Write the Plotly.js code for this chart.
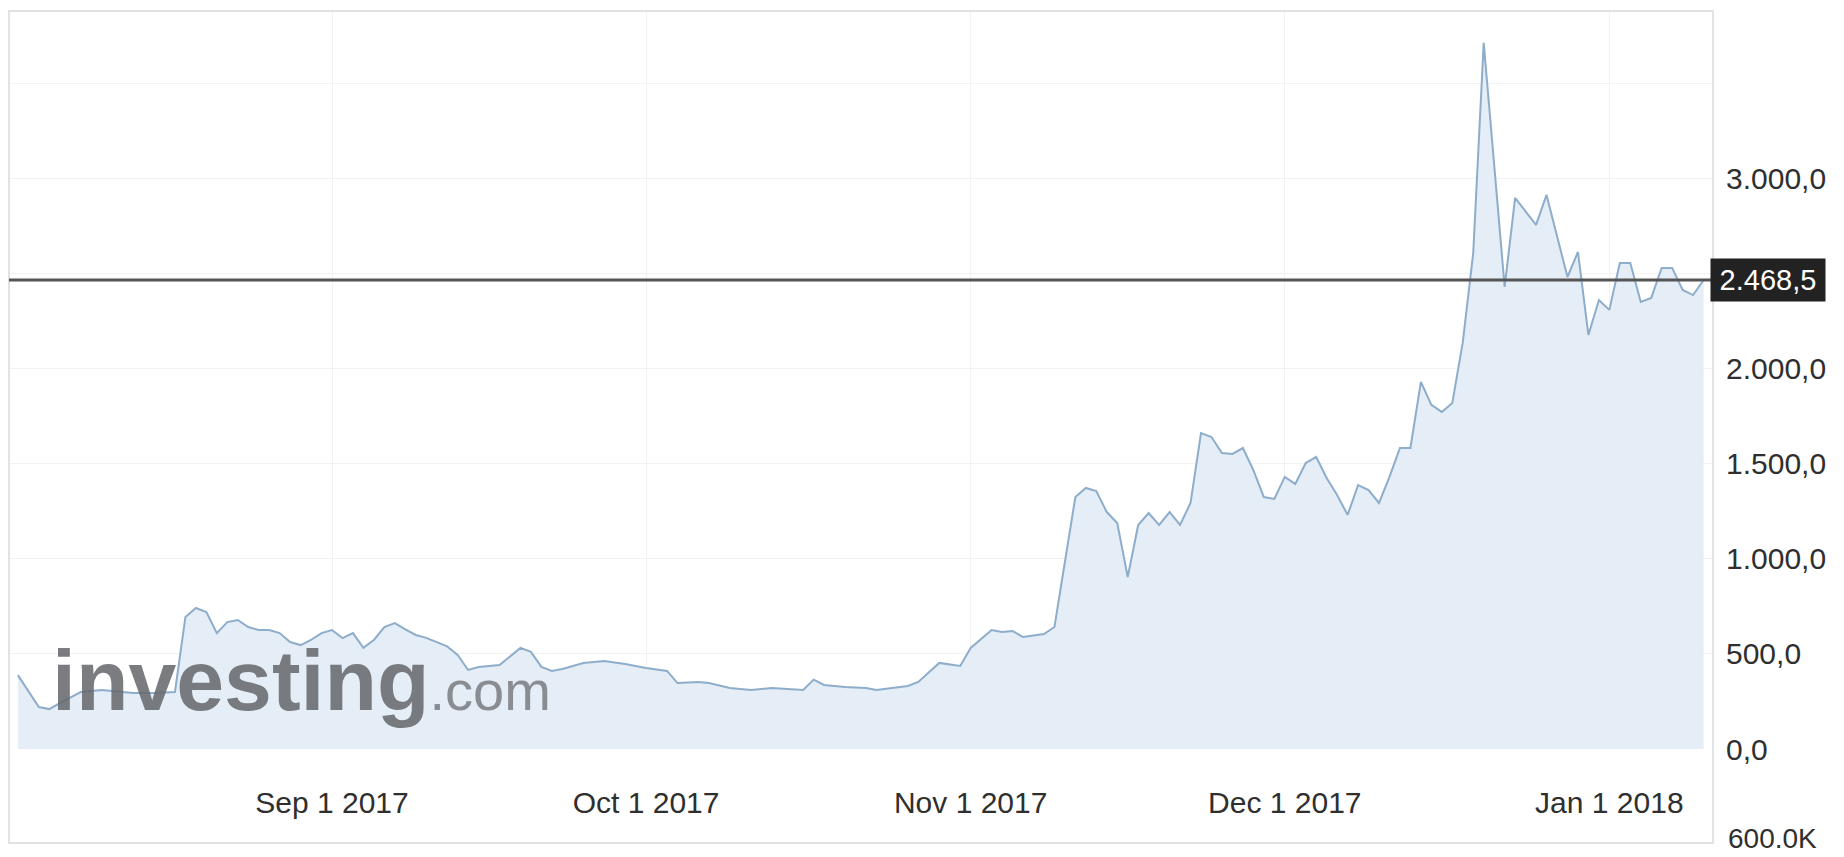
<!DOCTYPE html>
<html>
<head>
<meta charset="utf-8">
<script src="https://cdn.plot.ly/plotly-3.0.1.min.js"></script>
<style>
  html, body { margin: 0; padding: 0; background: #ffffff; }
  #chart { width: 1844px; height: 857px; }
</style>
</head>
<body>
<div id="chart"></div>
<script>
// ---- data ----
const dates = [
  '2017-08-02','2017-08-03','2017-08-04','2017-08-05','2017-08-06','2017-08-08','2017-08-10',
  '2017-08-13','2017-08-15','2017-08-17','2017-08-18','2017-08-19','2017-08-20','2017-08-21',
  '2017-08-22','2017-08-23','2017-08-24','2017-08-25','2017-08-26','2017-08-27','2017-08-28',
  '2017-08-29','2017-08-30','2017-08-31','2017-09-01','2017-09-02','2017-09-03','2017-09-04',
  '2017-09-05','2017-09-06','2017-09-07','2017-09-08','2017-09-09','2017-09-10','2017-09-11',
  '2017-09-12','2017-09-13','2017-09-14','2017-09-15','2017-09-17','2017-09-19','2017-09-20',
  '2017-09-21','2017-09-22','2017-09-23','2017-09-25','2017-09-27','2017-09-29','2017-10-01',
  '2017-10-03','2017-10-04','2017-10-06','2017-10-07','2017-10-09','2017-10-11','2017-10-13',
  '2017-10-16','2017-10-17','2017-10-18','2017-10-20','2017-10-22','2017-10-23','2017-10-26',
  '2017-10-27','2017-10-29','2017-10-31','2017-11-01','2017-11-03','2017-11-04','2017-11-05',
  '2017-11-06','2017-11-08','2017-11-09','2017-11-11','2017-11-12','2017-11-13','2017-11-14',
  '2017-11-15','2017-11-16','2017-11-17','2017-11-18','2017-11-19','2017-11-20','2017-11-21',
  '2017-11-22','2017-11-23','2017-11-24','2017-11-25','2017-11-26','2017-11-27','2017-11-28',
  '2017-11-29','2017-11-30','2017-12-01','2017-12-02','2017-12-03','2017-12-04','2017-12-05',
  '2017-12-06','2017-12-07','2017-12-08','2017-12-09','2017-12-10','2017-12-11','2017-12-12',
  '2017-12-13','2017-12-14','2017-12-15','2017-12-16','2017-12-17','2017-12-18','2017-12-19',
  '2017-12-20','2017-12-22','2017-12-23','2017-12-25','2017-12-26','2017-12-28','2017-12-29',
  '2017-12-30','2017-12-31','2018-01-01','2018-01-02','2018-01-03','2018-01-04','2018-01-05',
  '2018-01-06','2018-01-07','2018-01-08','2018-01-09','2018-01-10'
];
const prices = [
  389, 305, 221, 210, 242, 300, 310,
  295, 295, 300, 695, 742, 721, 610,
  668, 679, 642, 626, 626, 610, 563,
  547, 574, 610, 626, 584, 610, 532,
  574, 642, 663, 630, 600, 585, 563,
  540, 495, 416, 432, 442, 532, 511,
  432, 411, 421, 453, 463, 447, 426,
  411, 347, 353, 347, 321, 311, 321,
  311, 365, 337, 326, 321, 311, 332,
  353, 453, 437, 532, 626, 616, 621,
  589, 605, 642, 1326, 1374, 1358, 1247,
  1189, 905, 1179, 1242, 1179, 1247, 1179,
  1295, 1663, 1642, 1558, 1553, 1584, 1468,
  1326, 1316, 1432, 1395, 1505, 1537, 1426,
  1337, 1232, 1389, 1363, 1295, 1432, 1584,
  1584, 1932, 1811, 1774, 1821, 2140, 2611,
  3716, 2432, 2900, 2758, 2916, 2484, 2616,
  2179, 2363, 2311, 2558, 2558, 2353, 2374,
  2532, 2532, 2416, 2389, 2468.5
];
const lastPrice = 2468.5;
const lastPriceLabel = '2.468,5';
const xTickVals = ['2017-09-01','2017-10-01','2017-11-01','2017-12-01','2018-01-01'];
const xTickText = ['Sep 1 2017','Oct 1 2017','Nov 1 2017','Dec 1 2017','Jan 1 2018'];
const yTickVals = [0, 500, 1000, 1500, 2000, 2500, 3000, 3500];
const yTickText = ['0,0', '500,0', '1.000,0', '1.500,0', '2.000,0', '', '3.000,0', ''];
const volumeLabel = '600.0K';

const FONT = 'Arial, "Liberation Sans", sans-serif';

const trace = {
  type: 'scatter',
  mode: 'lines',
  x: dates,
  y: prices,
  line: { color: '#8eadcb', width: 2 },
  fill: 'tozeroy',
  fillcolor: '#e5edf6',
  hoverinfo: 'skip'
};

const layout = {
  width: 1844,
  height: 857,
  margin: { l: 9, r: 131, t: 11, b: 108 },
  paper_bgcolor: '#ffffff',
  plot_bgcolor: '#ffffff',
  showlegend: false,
  font: { family: FONT, color: '#333333' },
  xaxis: {
    type: 'date',
    range: ['2017-08-01 03:36', '2018-01-10 21:36'],
    tickmode: 'array',
    tickvals: xTickVals,
    ticktext: xTickText,
    showgrid: true,
    gridcolor: '#f2f2f2',
    gridwidth: 1,
    zeroline: false,
    showline: false,
    ticks: '',
    ticklabelstandoff: 33,
    tickfont: { family: FONT, size: 30, color: '#2f2f2f' },
    fixedrange: true
  },
  yaxis: {
    side: 'right',
    range: [0, 3884],
    tickmode: 'array',
    tickvals: yTickVals,
    ticktext: yTickText,
    showgrid: true,
    gridcolor: '#f2f2f2',
    gridwidth: 1,
    zeroline: false,
    showline: false,
    ticks: '',
    ticklabelstandoff: 12,
    tickfont: { family: FONT, size: 30, color: '#2f2f2f' },
    fixedrange: true
  },
  shapes: [
    { type: 'rect', xref: 'paper', yref: 'paper', x0: 0, x1: 1, y0: -0.1274, y1: 1,
      line: { color: '#e2e2e2', width: 2 }, fillcolor: 'rgba(0,0,0,0)', layer: 'above' },
    { type: 'line', xref: 'paper', yref: 'y', x0: 0, x1: 1, y0: lastPrice, y1: lastPrice,
      line: { color: '#555555', width: 3 }, layer: 'above' }
  ],
  annotations: [
    { xref: 'paper', yref: 'y', x: 1, y: lastPrice, xanchor: 'left', yanchor: 'middle',
      xshift: -3, text: lastPriceLabel, showarrow: false,
      font: { family: FONT, size: 29, color: '#ffffff' },
      bgcolor: '#222222', borderpad: 5, width: 104, align: 'center' },
    { xref: 'paper', yref: 'paper', x: 1, y: -0.1206, xanchor: 'left', yanchor: 'middle',
      xshift: 13, text: volumeLabel, showarrow: false,
      font: { family: FONT, size: 28, color: '#2f2f2f' } },
    { xref: 'paper', yref: 'paper', x: 0.024, y: 0.093, xanchor: 'left', yanchor: 'middle',
      text: '<b>investing</b><span style="font-size:56px;color:#7d8085">.com</span>',
      showarrow: false, opacity: 0.88,
      font: { family: FONT, size: 86, color: '#686b6f' } }
  ]
};

Plotly.newPlot('chart', [trace], layout, { displayModeBar: false, staticPlot: true });
</script>
</body>
</html>
